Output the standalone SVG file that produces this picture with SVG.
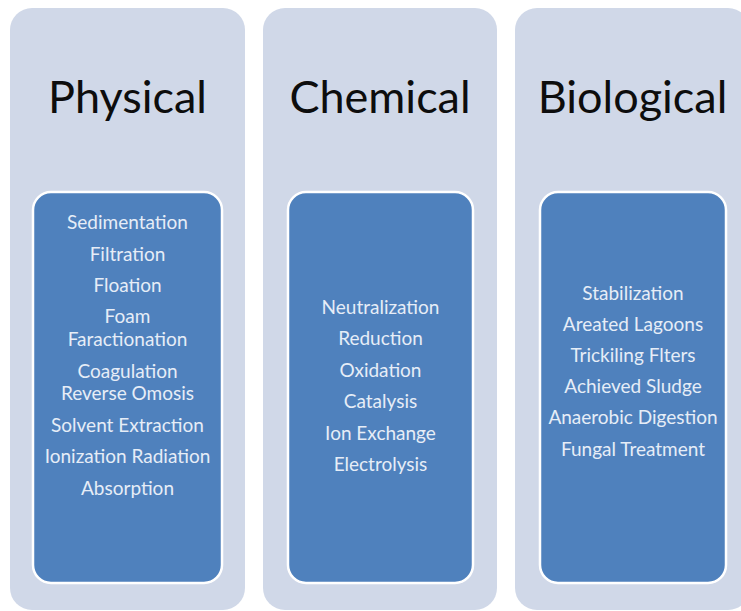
<svg xmlns="http://www.w3.org/2000/svg" width="741" height="611" viewBox="0 0 741 611">
<style>
.panel{fill:#d0d8e8;}
.inner{fill:#4f81bd;stroke:#ffffff;stroke-width:2.5;}
.title{font-family:Lato,"Open Sans",sans-serif;font-size:45px;fill:#0d0d0d;text-anchor:middle;}
.item{font-family:Lato,"Open Sans",sans-serif;font-size:19px;fill:#e6edf7;text-anchor:middle;}
</style>
<rect width="741" height="611" fill="#ffffff"/>
<g id="physical">
<rect class="panel" x="10" y="8" width="235" height="602" rx="22"/>
<text class="title" x="127.5" y="113">Physical</text>
<rect class="inner" x="33" y="192" width="189" height="391" rx="18"/>
<text class="item" x="127.5" y="229">Sedimentation</text>
<text class="item" x="127.5" y="261">Filtration</text>
<text class="item" x="127.5" y="292">Floation</text>
<text class="item" x="127.5" y="323">Foam</text>
<text class="item" x="127.5" y="346">Faractionation</text>
<text class="item" x="127.5" y="378">Coagulation</text>
<text class="item" x="127.5" y="400">Reverse Omosis</text>
<text class="item" x="127.5" y="432">Solvent Extraction</text>
<text class="item" x="127.5" y="463">Ionization Radiation</text>
<text class="item" x="127.5" y="495">Absorption</text>
</g>
<g id="chemical">
<rect class="panel" x="263" y="8" width="234" height="602" rx="22"/>
<text class="title" x="380" y="113">Chemical</text>
<rect class="inner" x="288" y="192" width="185" height="391" rx="18"/>
<text class="item" x="380.5" y="314">Neutralization</text>
<text class="item" x="380.5" y="345">Reduction</text>
<text class="item" x="380.5" y="377">Oxidation</text>
<text class="item" x="380.5" y="408">Catalysis</text>
<text class="item" x="380.5" y="440">Ion Exchange</text>
<text class="item" x="380.5" y="471">Electrolysis</text>
</g>
<g id="biological">
<rect class="panel" x="515" y="8" width="235" height="602" rx="22"/>
<text class="title" x="632.5" y="113">Biological</text>
<rect class="inner" x="540" y="192" width="186" height="391" rx="18"/>
<text class="item" x="633" y="300">Stabilization</text>
<text class="item" x="633" y="331">Areated Lagoons</text>
<text class="item" x="633" y="362">Trickiling Flters</text>
<text class="item" x="633" y="393">Achieved Sludge</text>
<text class="item" x="633" y="424">Anaerobic Digestion</text>
<text class="item" x="633" y="456">Fungal Treatment</text>
</g>
<g id="connectors"></g>
</svg>
